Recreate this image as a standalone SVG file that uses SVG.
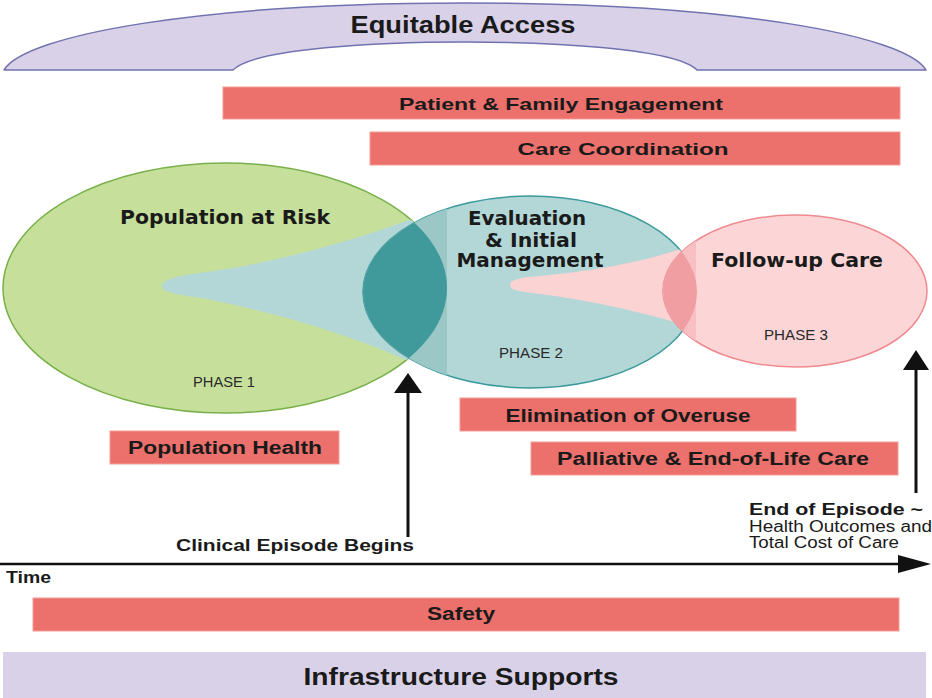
<svg xmlns="http://www.w3.org/2000/svg" width="932" height="698" viewBox="0 0 932 698">
<defs>
<style>
.bar{fill:#ec706b;stroke:#f29c97;stroke-width:1}
.lav{fill:#d9d1e8}
.lbl{font-family:"Liberation Sans",Arial,sans-serif;font-weight:bold;fill:#1a1a1a;text-anchor:middle}
.ttl{font-family:"DejaVu Sans",Verdana,sans-serif;font-weight:bold;fill:#1a1a1a;text-anchor:middle;font-size:19px}
.ph{font-family:"Liberation Sans",Arial,sans-serif;fill:#2a2a2a;text-anchor:middle;font-size:14px}
.txt{font-family:"Liberation Sans",Arial,sans-serif;fill:#1a1a1a}
.ln{stroke:#111;fill:none}
</style>
<clipPath id="cGreen"><ellipse cx="225" cy="288" rx="222" ry="125"/></clipPath>
<clipPath id="cTeal"><ellipse cx="530" cy="292" rx="167" ry="96"/></clipPath>
<clipPath id="cPink"><ellipse cx="795" cy="291" rx="132" ry="76"/></clipPath>
</defs>
<rect width="932" height="698" fill="#ffffff"/>

<g id="equitable-access">
<path class="lav" stroke="#7172b0" stroke-width="1.5" stroke-linejoin="round" d="M4,70 C25,35 200,3 465,3 C730,3 905,35 926,70 L697,70 C675,48 550,42 465,42 C380,42 255,48 233,70 Z"/>
<text class="lbl" x="463" y="33" font-size="23" textLength="225" lengthAdjust="spacingAndGlyphs">Equitable Access</text>
</g>

<g id="patient-family">
<rect class="bar" x="223" y="87" width="677" height="32"/>
<text class="lbl" x="561" y="110" font-size="17" textLength="324" lengthAdjust="spacingAndGlyphs">Patient &amp; Family Engagement</text>
</g>

<g id="care-coordination">
<rect class="bar" x="370" y="132" width="530" height="33"/>
<text class="lbl" x="623" y="155" font-size="17" textLength="211" lengthAdjust="spacingAndGlyphs">Care Coordination</text>
</g>

<g id="phase1">
<ellipse cx="225" cy="288" rx="222" ry="125" fill="#c6e09c" stroke="#79b04a" stroke-width="1.5"/>
<path clip-path="url(#cGreen)" fill="#b3d7d6" d="M162,286 C162,279 182,275 207,272 C250,266 330,250 420,216 L460,216 L460,365 L410,362 C370,343 300,318 207,299 C182,295 162,293 162,286 Z"/>
<text class="ttl" x="225" y="224" textLength="210" lengthAdjust="spacingAndGlyphs">Population at Risk</text>
<text class="ph" x="224" y="387" textLength="62" lengthAdjust="spacingAndGlyphs">PHASE 1</text>
</g>

<g id="phase2">
<ellipse cx="530" cy="292" rx="167" ry="96" fill="#b3d7d6" stroke="#3a9a9c" stroke-width="1.5"/>
<rect clip-path="url(#cTeal)" x="350" y="190" width="97" height="210" fill="#9cc7c7"/>
<ellipse clip-path="url(#cTeal)" cx="225" cy="288" rx="222" ry="125" fill="#40999b"/>
<path clip-path="url(#cTeal)" fill="#fcd3d3" d="M510,285 C510,279 525,277 540,276 C580,272 630,266 684,248 L705,248 L705,328 L688,326 C650,314 590,300 540,294 C525,292 510,291 510,285 Z"/>
<text class="ttl" x="527" y="225" textLength="118" lengthAdjust="spacingAndGlyphs">Evaluation</text>
<text class="ttl" x="531" y="247" textLength="92" lengthAdjust="spacingAndGlyphs">&amp; Initial</text>
<text class="ttl" x="530" y="267" textLength="147" lengthAdjust="spacingAndGlyphs">Management</text>
<text class="ph" x="531" y="358" textLength="64" lengthAdjust="spacingAndGlyphs">PHASE 2</text>
</g>

<g id="phase3">
<ellipse cx="795" cy="291" rx="132" ry="76" fill="#fcd6d6" stroke="#ef8a90" stroke-width="1.5"/>
<rect clip-path="url(#cPink)" x="660" y="210" width="36" height="165" fill="#f8c0c2"/>
<ellipse clip-path="url(#cPink)" cx="530" cy="292" rx="167" ry="96" fill="#f19ea3"/>
<text class="ttl" x="797" y="267" textLength="172" lengthAdjust="spacingAndGlyphs">Follow-up Care</text>
<text class="ph" x="796" y="340" textLength="64" lengthAdjust="spacingAndGlyphs">PHASE 3</text>
</g>

<g id="population-health">
<rect class="bar" x="110" y="431" width="229" height="33"/>
<text class="lbl" x="225" y="454" font-size="18" textLength="194" lengthAdjust="spacingAndGlyphs">Population Health</text>
</g>

<g id="elimination-overuse">
<rect class="bar" x="460" y="398" width="336" height="33"/>
<text class="lbl" x="628" y="422" font-size="18" textLength="245" lengthAdjust="spacingAndGlyphs">Elimination of Overuse</text>
</g>

<g id="palliative">
<rect class="bar" x="531" y="442" width="367" height="33"/>
<text class="lbl" x="713" y="465" font-size="18" textLength="312" lengthAdjust="spacingAndGlyphs">Palliative &amp; End-of-Life Care</text>
</g>

<g id="connectors">
<line class="ln" x1="408" y1="537" x2="408" y2="390" stroke-width="3"/>
<polygon points="394,393 408,373 422,393" fill="#111"/>
<line class="ln" x1="916" y1="493" x2="916" y2="367" stroke-width="3"/>
<polygon points="903,370 916,350 929,370" fill="#111"/>
<line class="ln" x1="0" y1="564" x2="902" y2="564" stroke-width="2.5"/>
<polygon points="898,555 931,564 898,573" fill="#111"/>
</g>

<g id="labels">
<text class="txt" x="176" y="551" font-size="17" font-weight="bold" textLength="238" lengthAdjust="spacingAndGlyphs">Clinical Episode Begins</text>
<text class="txt" x="749" y="515" font-size="17" font-weight="bold" textLength="174" lengthAdjust="spacingAndGlyphs">End of Episode ~</text>
<text class="txt" x="749" y="532" font-size="16" textLength="183" lengthAdjust="spacingAndGlyphs">Health Outcomes and</text>
<text class="txt" x="749" y="548" font-size="16" textLength="150" lengthAdjust="spacingAndGlyphs">Total Cost of Care</text>
<text class="txt" x="6" y="583" font-size="16" font-weight="bold" textLength="45" lengthAdjust="spacingAndGlyphs">Time</text>
</g>

<g id="safety">
<rect class="bar" x="33" y="598" width="866" height="33"/>
<text class="lbl" x="461" y="620" font-size="18" textLength="68" lengthAdjust="spacingAndGlyphs">Safety</text>
</g>

<g id="infrastructure">
<rect class="lav" x="3" y="652" width="923" height="46"/>
<text class="lbl" x="461" y="685" font-size="23" textLength="315" lengthAdjust="spacingAndGlyphs">Infrastructure Supports</text>
</g>
</svg>
